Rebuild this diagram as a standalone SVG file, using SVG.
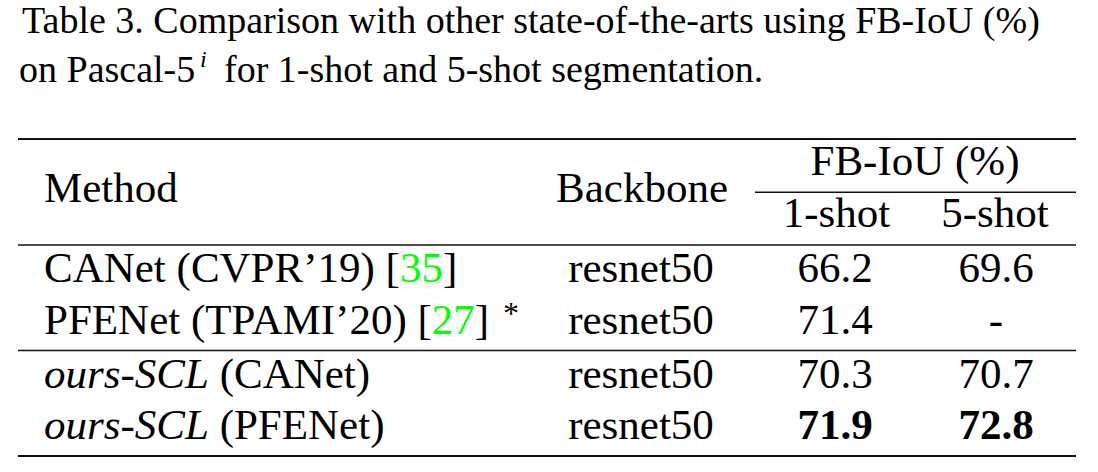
<svg xmlns="http://www.w3.org/2000/svg" width="1098" height="472" viewBox="0 0 1098 472">
  <style>
    text { font-family: "Liberation Serif", "Times New Roman", serif; fill: #000; }
    .cap { font-size: 38px; }
    .cell { font-size: 43px; }
    .c { text-anchor: middle; }
    .cite { fill: #00ff00; }
    .b { font-weight: bold; }
    .it { font-style: italic; }
    .heavy { stroke: #111; stroke-width: 2.2; }
    .light { stroke: #111; stroke-width: 1.4; }
  </style>
  <rect width="1098" height="472" fill="#fff"/>

  <g id="caption">
    <text class="cap" x="22" y="33">Table 3. Comparison with other state-of-the-arts using FB-IoU (%)</text>
    <text class="cap" x="19" y="82">on Pascal-5</text>
    <text class="it" x="200" y="67" font-size="24">i</text>
    <text class="cap" x="224" y="82">for 1-shot and 5-shot segmentation.</text>
  </g>

  <g id="rules">
    <line class="heavy" x1="18" y1="139" x2="1076" y2="139"/>
    <line class="light" x1="755" y1="192.3" x2="1076" y2="192.3"/>
    <line class="light" x1="18" y1="245" x2="1076" y2="245"/>
    <line class="light" x1="18" y1="350.5" x2="1076" y2="350.5"/>
    <line class="heavy" x1="18" y1="456" x2="1076" y2="456"/>
  </g>

  <g id="header">
    <text class="cell" x="44" y="202">Method</text>
    <text class="cell c" x="642" y="202">Backbone</text>
    <text class="cell c" x="915" y="175">FB-IoU (%)</text>
    <text class="cell c" x="836.5" y="227">1-shot</text>
    <text class="cell c" x="995" y="227">5-shot</text>
  </g>

  <g id="row-canet">
    <text class="cell" x="44" y="282">CANet (CVPR’19) [<tspan class="cite">35</tspan>]</text>
    <text class="cell c" x="641" y="282">resnet50</text>
    <text class="cell c" x="835" y="282">66.2</text>
    <text class="cell c" x="996" y="282">69.6</text>
  </g>

  <g id="row-pfenet">
    <text class="cell" x="44" y="334">PFENet (TPAMI’20) [<tspan class="cite">27</tspan>]</text>
    <text x="503" y="324" font-size="32">*</text>
    <text class="cell c" x="641" y="334">resnet50</text>
    <text class="cell c" x="835" y="334">71.4</text>
    <text class="cell c" x="996" y="334">-</text>
  </g>

  <g id="row-ours-canet">
    <text class="cell" x="44" y="388"><tspan class="it">ours-SCL</tspan> (CANet)</text>
    <text class="cell c" x="641" y="388">resnet50</text>
    <text class="cell c" x="835" y="388">70.3</text>
    <text class="cell c" x="996" y="388">70.7</text>
  </g>

  <g id="row-ours-pfenet">
    <text class="cell" x="44" y="439"><tspan class="it">ours-SCL</tspan> (PFENet)</text>
    <text class="cell c" x="641" y="439">resnet50</text>
    <text class="cell c b" x="835" y="439">71.9</text>
    <text class="cell c b" x="996" y="439">72.8</text>
  </g>
</svg>
